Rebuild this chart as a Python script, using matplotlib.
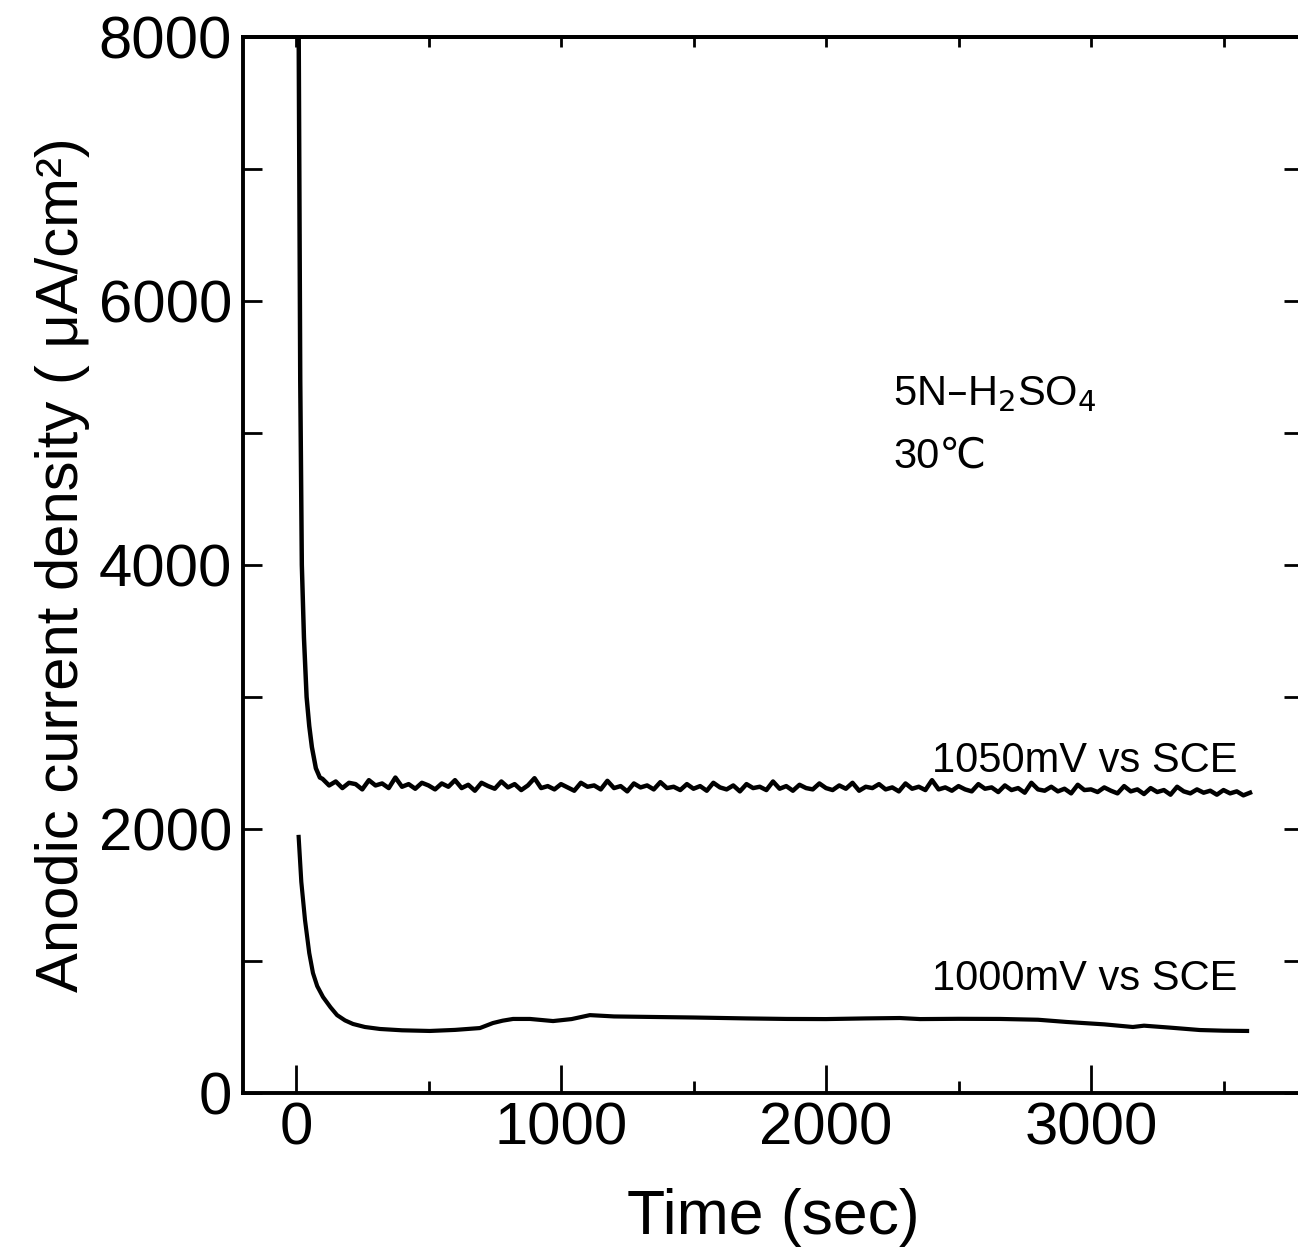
# Anodic current density vs time, 5N-H2SO4 at 30 C

import numpy as np
import matplotlib.pyplot as plt
from matplotlib.ticker import MultipleLocator

plt.rcParams['font.family'] = ['Liberation Sans', 'DejaVu Sans']

# 1050 mV vs SCE: initial decay, then noisy plateau every 25 s from 100 to 3600 s
t_1050_decay = [8, 12, 16, 22, 30, 40, 50, 60, 75, 90]
v_1050_decay = [9000, 7200, 5400, 4000, 3450, 3000, 2780, 2620, 2460, 2390]
v_1050_plateau = [
    2380, 2330, 2360, 2310, 2350, 2340, 2300, 2370, 2330, 2345, 2310, 2390, 2320, 2340, 2305, 2350,
    2330, 2300, 2345, 2320, 2370, 2310, 2335, 2290, 2350, 2325, 2305, 2360, 2315, 2340, 2295, 2330, 2385, 2310, 2325, 2300,
    2340, 2315, 2290, 2350, 2320, 2330, 2300, 2365, 2310, 2325, 2285, 2345, 2315, 2330, 2300, 2355, 2310, 2320, 2295, 2340,
    2305, 2325, 2290, 2350, 2315, 2300, 2330, 2285, 2340, 2310, 2320, 2295, 2360, 2305, 2325, 2290, 2335, 2310, 2300, 2345,
    2310, 2295, 2330, 2305, 2350, 2290, 2320, 2310, 2340, 2300, 2315, 2285, 2345, 2305, 2320, 2295, 2370, 2300, 2315, 2290,
    2325, 2300, 2285, 2340, 2305, 2315, 2280, 2330, 2295, 2310, 2275, 2350, 2300, 2290, 2320, 2285, 2305, 2270, 2335, 2295,
    2300, 2280, 2315, 2290, 2270, 2325, 2285, 2300, 2265, 2310, 2280, 2295, 2260, 2320, 2285, 2270, 2300, 2275, 2290, 2260,
    2295, 2270, 2285, 2255, 2275,
]
t_1050_plateau = np.arange(100, 3601, 25)

# 1000 mV vs SCE
t_1000 = [10, 20, 34, 50, 64, 80, 102, 130, 155, 185, 215, 260, 317, 400, 505, 600, 694, 743, 780,
          819, 883, 970, 1040, 1109, 1200, 1347, 1500, 1700, 1853, 2000, 2150, 2279, 2355, 2500,
          2657, 2800, 2909, 3050, 3158, 3200, 3300, 3411, 3500, 3589]
v_1000 = [1940, 1600, 1310, 1060, 909, 810, 727, 650, 590, 550, 523, 500, 485, 475, 470, 478, 492, 530, 548,
          561, 561, 545, 560, 590, 580, 576, 572, 565, 561, 560, 565, 568, 560, 562,
          561, 555, 538, 520, 500, 510, 495, 477, 472, 470]

t_1050 = list(t_1050_decay) + list(t_1050_plateau)
v_1050 = list(v_1050_decay) + list(v_1050_plateau)

fig = plt.figure(figsize=(12.98, 12.57), dpi=100)
ax = fig.add_axes([243 / 1298, 164 / 1257, 1060 / 1298, 1056 / 1257])

ax.plot(t_1050, v_1050, color='black', lw=3.2)
ax.plot(t_1000, v_1000, color='black', lw=3.0)

ax.set_xlim(-200, 3800)
ax.set_ylim(0, 8000)

ax.xaxis.set_major_locator(MultipleLocator(1000))
ax.xaxis.set_minor_locator(MultipleLocator(500))
ax.yaxis.set_major_locator(MultipleLocator(2000))
ax.yaxis.set_minor_locator(MultipleLocator(1000))

ax.tick_params(axis='x', which='major', direction='in', length=20, width=2, labelsize=43, pad=6)
ax.tick_params(axis='x', which='minor', direction='in', length=9, width=2)
ax.tick_params(axis='y', which='both', direction='in', length=14, width=2, labelsize=43, pad=8)

top = ax.secondary_xaxis('top')
top.xaxis.set_major_locator(MultipleLocator(500))
top.tick_params(direction='in', length=7, width=2, labeltop=False)
right = ax.secondary_yaxis('right')
right.yaxis.set_major_locator(MultipleLocator(1000))
right.tick_params(direction='in', length=14, width=2, labelright=False)

for sp in list(ax.spines.values()) + list(top.spines.values()) + list(right.spines.values()):
    sp.set_linewidth(2.8)

ax.set_xlabel('Time (sec)', fontsize=45)
ax.set_ylabel('Anodic current density ( μA/cm²)', fontsize=43)
ax.xaxis.set_label_coords(0.5, -0.09)
ax.yaxis.set_label_coords(-0.144, 0.5)

ax.text(2253, 5212, '5N–H$_2$SO$_4$', fontsize=30)
ax.text(2253, 4735, '30℃', fontsize=30)
ax.text(3551, 2432, '1050mV vs SCE', fontsize=30, ha='right')
ax.text(3551, 780, '1000mV vs SCE', fontsize=30, ha='right')

plt.savefig('out.png', dpi=100)
